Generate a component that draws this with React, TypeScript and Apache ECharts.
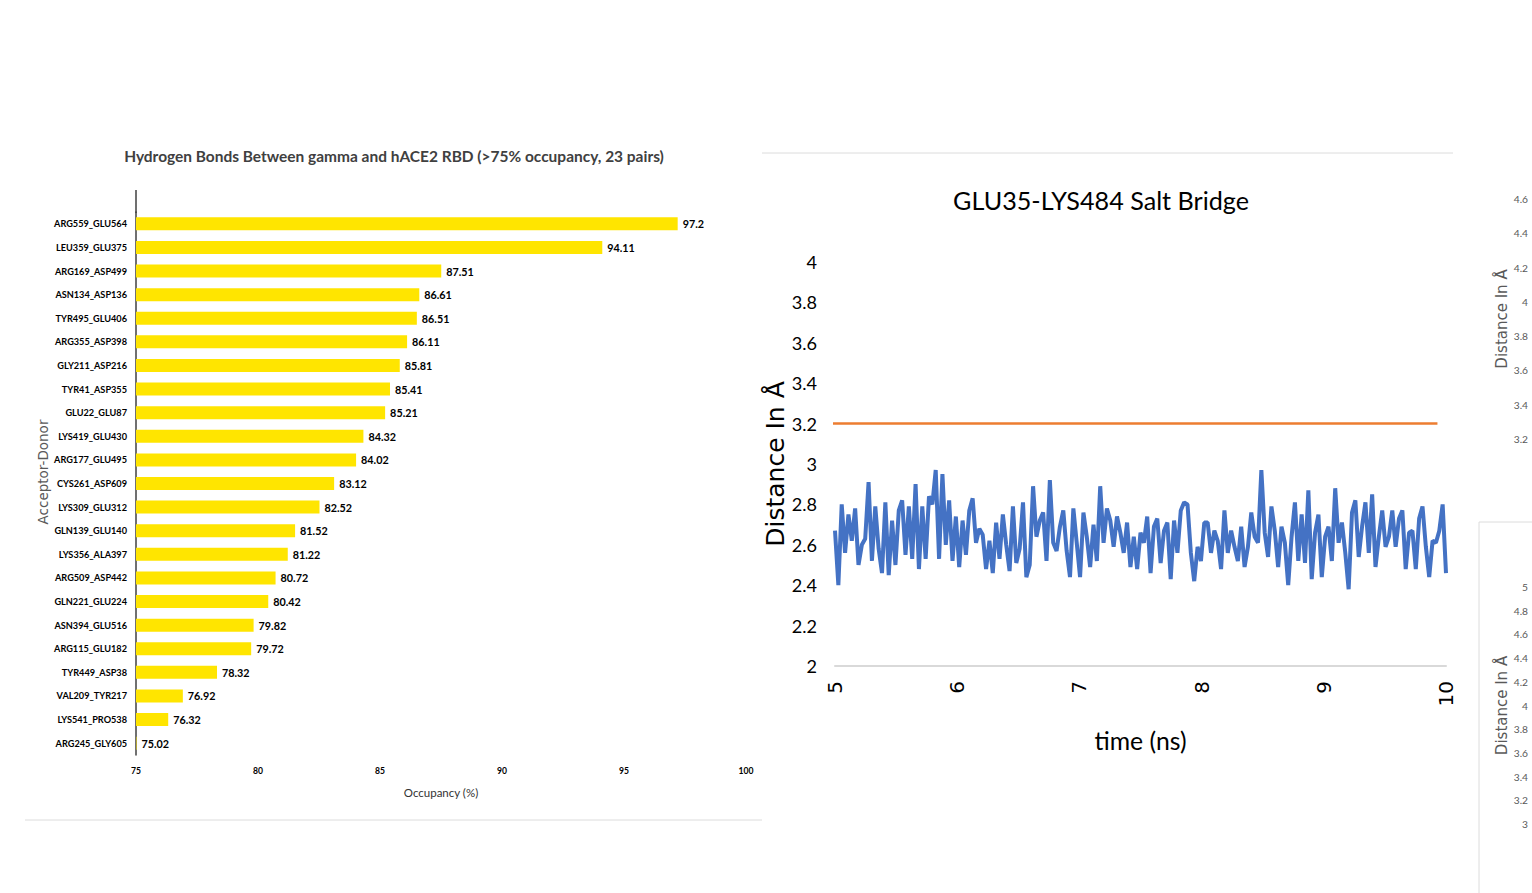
import React, { useEffect, useRef } from "react";
import * as echarts from "echarts";

// ---------- Data: hydrogen bond occupancy ----------
const pairs = [
  "ARG559_GLU564", "LEU359_GLU375", "ARG169_ASP499", "ASN134_ASP136", "TYR495_GLU406",
  "ARG355_ASP398", "GLY211_ASP216", "TYR41_ASP355", "GLU22_GLU87", "LYS419_GLU430",
  "ARG177_GLU495", "CYS261_ASP609", "LYS309_GLU312", "GLN139_GLU140", "LYS356_ALA397",
  "ARG509_ASP442", "GLN221_GLU224", "ASN394_GLU516", "ARG115_GLU182", "TYR449_ASP38",
  "VAL209_TYR217", "LYS541_PRO538", "ARG245_GLY605",
];
const occupancy = [
  97.2, 94.11, 87.51, 86.61, 86.51, 86.11, 85.81, 85.41, 85.21, 84.32, 84.02, 83.12,
  82.52, 81.52, 81.22, 80.72, 80.42, 79.82, 79.72, 78.32, 76.92, 76.32, 75.02,
];

// ---------- Data: GLU35-LYS484 salt bridge distance (5–10 ns, even frames) ----------
const timeRange = [5, 10];
const distance = [
  2.67, 2.40, 2.80, 2.56, 2.75, 2.62, 2.78, 2.50, 2.60, 2.63,
  2.91, 2.52, 2.79, 2.58, 2.46, 2.81, 2.45, 2.72, 2.50, 2.77,
  2.82, 2.55, 2.79, 2.53, 2.90, 2.48, 2.79, 2.53, 2.84, 2.80,
  2.97, 2.53, 2.95, 2.60, 2.82, 2.52, 2.74, 2.49, 2.72, 2.55,
  2.77, 2.83, 2.61, 2.68, 2.65, 2.48, 2.62, 2.46, 2.71, 2.53,
  2.75, 2.60, 2.47, 2.79, 2.51, 2.58, 2.81, 2.44, 2.50, 2.89,
  2.64, 2.72, 2.76, 2.52, 2.92, 2.61, 2.57, 2.69, 2.77, 2.57,
  2.44, 2.78, 2.61, 2.44, 2.76, 2.64, 2.49, 2.70, 2.52, 2.89,
  2.61, 2.78, 2.72, 2.59, 2.74, 2.66, 2.56, 2.71, 2.49, 2.64,
  2.48, 2.66, 2.61, 2.74, 2.46, 2.69, 2.73, 2.51, 2.67, 2.71,
  2.43, 2.72, 2.56, 2.77, 2.81, 2.80, 2.56, 2.42, 2.59, 2.52,
  2.71, 2.71, 2.56, 2.67, 2.62, 2.48, 2.77, 2.56, 2.67, 2.59,
  2.52,
  2.69, 2.49, 2.59, 2.76, 2.64, 2.61, 2.97, 2.66, 2.54, 2.79,
  2.67, 2.49, 2.69, 2.61, 2.40, 2.64, 2.81, 2.52, 2.75, 2.51,
  2.87, 2.43, 2.66, 2.75, 2.44, 2.64, 2.69, 2.52, 2.88, 2.61,
  2.71, 2.56, 2.38, 2.76, 2.82, 2.54, 2.69, 2.81, 2.56, 2.85,
  2.49, 2.64, 2.77, 2.59, 2.64, 2.77, 2.59, 2.73, 2.77, 2.48,
  2.66, 2.67, 2.48, 2.73, 2.79, 2.59, 2.44, 2.62, 2.61, 2.67,
  2.80, 2.46,
];
const thresholdValue = 3.2;
const thresholdTimes = [4.9, 9.93];

// ---------- Tick ranges ----------
const occTicks = { min: 75, max: 100, interval: 5 };
const distTicks = { min: 2, max: 4, interval: 0.2 };
const timeTicks = { min: 5, max: 10, interval: 1 };
const sideTopTicks = { min: 3.2, max: 4.6, interval: 0.2 };
const sideBottomTicks = { min: 3, max: 5, interval: 0.2 };

const barTitle = "Hydrogen Bonds Between gamma and hACE2 RBD (>75% occupancy, 23 pairs)";
const lineTitle = "GLU35-LYS484 Salt Bridge";

const NARROW = "Lato, 'Liberation Sans', sans-serif";
const WIDE = "'DejaVu Sans', Verdana, sans-serif";

function measure(text: string, font: string): number {
  const ctx = document.createElement("canvas").getContext("2d");
  if (!ctx) return 0;
  ctx.font = font;
  return ctx.measureText(text).width;
}
// font size that makes `text` about `target` px wide
function fit(text: string, weight: string, target: number, family = NARROW): number {
  const w = measure(text, `${weight} 100px ${family}`);
  return w > 0 ? (100 * target) / w : 12;
}

export default function App() {
  const ref = useRef<HTMLDivElement>(null);

  useEffect(() => {
    if (!ref.current) return;
    const chart = echarts.init(ref.current, null, { renderer: "svg" });

    const t1Size = fit(barTitle, "bold", 540);
    const t2Size = fit(lineTitle, "normal", 296);
    const w1 = measure(barTitle, `bold ${t1Size}px ${NARROW}`);
    const w2 = measure(lineTitle, `normal ${t2Size}px ${NARROW}`);
    const catSize = Math.min(12, fit("ARG559_GLU564", "bold", 73));
    const valSize = Math.min(12, fit("94.11", "bold", 24) * 1.15);
    const tickSize = Math.min(10, fit("100", "bold", 13) * 1.15);
    const occNameSize = Math.min(13, fit("Occupancy (%)", "normal", 68) * 1.1);
    const distLabelSize = Math.min(21, fit("3.8", "normal", 22) * 1.15);
    const timeNameSize = Math.min(28, fit("time (ns)", "normal", 80) * 1.15);
    const sideLabelSize = Math.min(12, fit("4.6", "normal", 13) * 1.1);

    const n = distance.length;
    const step = (timeRange[1] - timeRange[0]) / (n - 1);
    const distData = distance.map((v, i) => [timeRange[0] + i * step, v]);

    const sideAxis = (grid: number, ticks: any) => ({
      type: "value",
      gridIndex: grid,
      min: ticks.min,
      max: ticks.max,
      interval: ticks.interval,
      axisLine: { show: false },
      axisTick: { show: false },
      splitLine: { show: false },
      axisLabel: { fontFamily: NARROW, fontSize: sideLabelSize, color: "#595959", margin: 8 },
      name: "Distance In Å",
      nameLocation: "middle",
      nameGap: 23,
      nameTextStyle: { fontFamily: WIDE, fontSize: 15, color: "#595959" },
    });

    chart.setOption({
      animation: false,
      backgroundColor: "#ffffff",
      title: [
        {
          text: barTitle,
          left: 394 - w1 / 2,
          top: 158 - t1Size * 0.6,
          padding: 0,
          textStyle: { fontFamily: NARROW, fontSize: t1Size, fontWeight: "bold", color: "#404040" },
        },
        {
          text: lineTitle,
          left: 1101 - w2 / 2,
          top: 203 - t2Size * 0.6,
          padding: 0,
          textStyle: { fontFamily: NARROW, fontSize: t2Size, fontWeight: "normal", color: "#000000" },
        },
      ],
      grid: [
        { left: 136, top: 212, width: 610, height: 543 },
        { left: 835, top: 262, width: 611, height: 404 },
        { left: 1536, top: 199, width: 300, height: 240 },
        { left: 1536, top: 587, width: 300, height: 237 },
      ],
      xAxis: [
        {
          type: "value",
          gridIndex: 0,
          min: occTicks.min,
          max: occTicks.max,
          interval: occTicks.interval,
          axisLine: { show: false },
          axisTick: { show: false },
          splitLine: { show: false },
          axisLabel: { fontFamily: NARROW, fontSize: tickSize, fontWeight: "bold", color: "#000", margin: 11 },
          name: "Occupancy (%)",
          nameLocation: "middle",
          nameGap: 31,
          nameTextStyle: { fontFamily: NARROW, fontSize: occNameSize, color: "#333" },
        },
        {
          type: "value",
          gridIndex: 1,
          min: timeTicks.min,
          max: timeTicks.max,
          interval: timeTicks.interval,
          axisLine: { show: true, lineStyle: { color: "#d9d9d9", width: 2 } },
          axisTick: { show: false },
          splitLine: { show: false },
          axisLabel: { rotate: 90, fontFamily: WIDE, fontSize: 20, color: "#000", margin: 15 },
          name: "time (ns)",
          nameLocation: "middle",
          nameGap: 62,
          nameTextStyle: { fontFamily: NARROW, fontSize: timeNameSize, color: "#000" },
        },
        { type: "value", gridIndex: 2, show: false, min: 0, max: 1 },
        { type: "value", gridIndex: 3, show: false, min: 0, max: 1 },
      ],
      yAxis: [
        {
          type: "category",
          gridIndex: 0,
          data: pairs,
          inverse: true,
          axisLine: { show: true, lineStyle: { color: "#404040", width: 1.5 } },
          axisTick: { show: false },
          axisLabel: { fontFamily: NARROW, fontSize: catSize, fontWeight: "bold", color: "#000", margin: 9 },
          name: "Acceptor-Donor",
          nameLocation: "middle",
          nameMoveOverlap: false,
          nameGap: 86,
          nameTextStyle: { fontFamily: WIDE, fontSize: 13.5, color: "#595959", padding: [0, 0, 0, 23] },
        },
        {
          type: "value",
          gridIndex: 1,
          min: distTicks.min,
          max: distTicks.max,
          interval: distTicks.interval,
          axisLine: { show: false },
          axisTick: { show: false },
          splitLine: { show: false },
          axisLabel: { fontFamily: NARROW, fontSize: distLabelSize, color: "#000", margin: 18 },
          name: "Distance In Å",
          nameLocation: "middle",
          nameGap: 44,
          nameTextStyle: { fontFamily: WIDE, fontSize: 25, color: "#000" },
        },
        sideAxis(2, sideTopTicks),
        sideAxis(3, sideBottomTicks),
      ],
      series: [
        {
          type: "bar",
          name: "Occupancy",
          xAxisIndex: 0,
          yAxisIndex: 0,
          data: occupancy,
          barWidth: 13,
          itemStyle: { color: "#FFE500" },
          label: {
            show: true,
            position: "right",
            distance: 5,
            fontFamily: NARROW,
            fontSize: valSize,
            fontWeight: "bold",
            color: "#000",
          },
        },
        {
          type: "line",
          name: "Distance",
          xAxisIndex: 1,
          yAxisIndex: 1,
          data: distData,
          showSymbol: false,
          lineStyle: { color: "#4472C4", width: 4 },
          itemStyle: { color: "#4472C4" },
        },
        {
          type: "line",
          name: "Threshold",
          xAxisIndex: 1,
          yAxisIndex: 1,
          clip: false,
          data: thresholdTimes.map((t) => [t, thresholdValue]),
          showSymbol: false,
          lineStyle: { color: "#ED7D31", width: 2.5 },
          itemStyle: { color: "#ED7D31" },
        },
      ],
      graphic: [
        { type: "line", shape: { x1: 762, y1: 153, x2: 1453, y2: 153 }, style: { stroke: "#dcdcdc", lineWidth: 1 } },
        { type: "line", shape: { x1: 25, y1: 820, x2: 762, y2: 820 }, style: { stroke: "#dcdcdc", lineWidth: 1 } },
        { type: "line", shape: { x1: 1479, y1: 522, x2: 1479, y2: 893 }, style: { stroke: "#dcdcdc", lineWidth: 1 } },
        { type: "line", shape: { x1: 1479, y1: 522, x2: 1532, y2: 522 }, style: { stroke: "#dcdcdc", lineWidth: 1 } },
        { type: "line", shape: { x1: 136, y1: 190, x2: 136, y2: 213 }, style: { stroke: "#404040", lineWidth: 1.5 } },
      ],
    });

    return () => chart.dispose();
  }, []);

  return (
    <div
      ref={ref}
      style={{ position: "absolute", left: 0, top: 0, width: 1532, height: 893, background: "#fff" }}
    />
  );
}
